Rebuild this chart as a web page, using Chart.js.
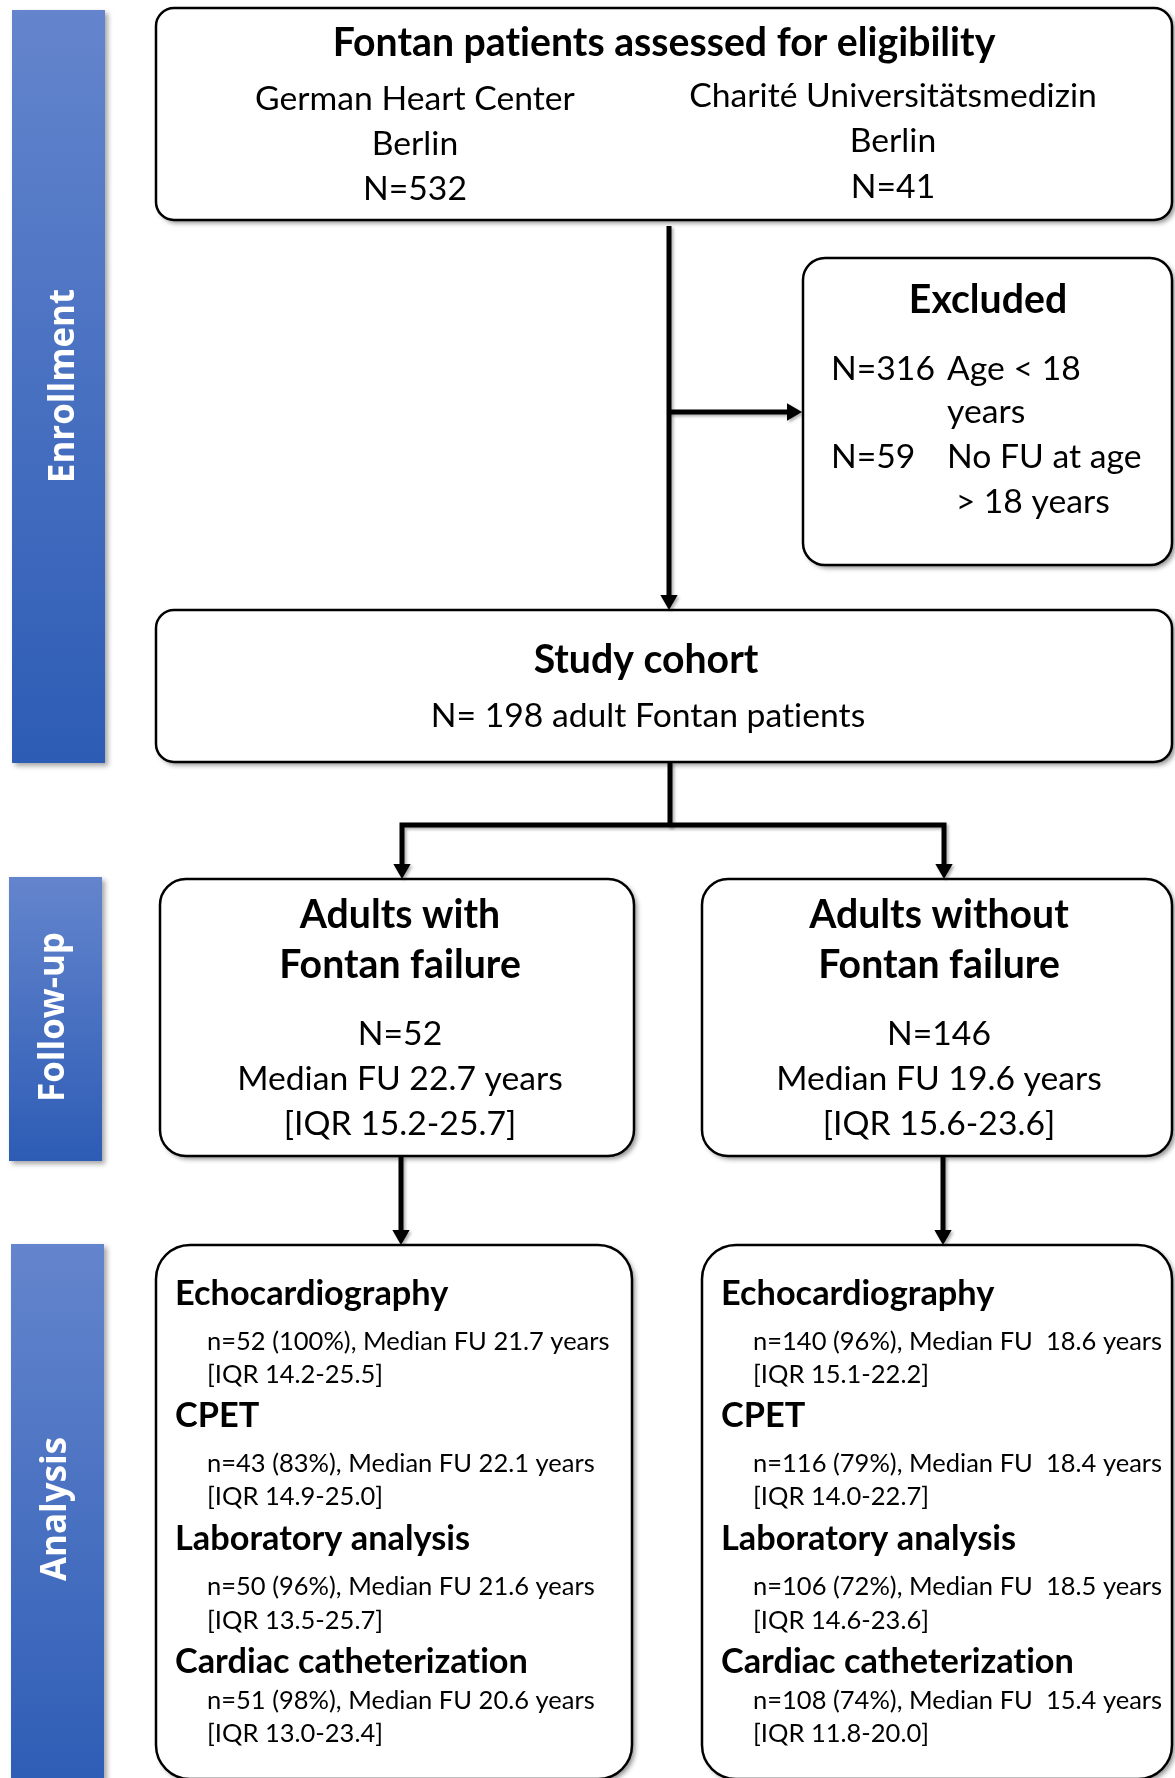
<!DOCTYPE html>
<html>
<head>
<meta charset="utf-8">
<title>Fontan cohort flow chart</title>
<script src="https://cdn.jsdelivr.net/npm/chart.js"></script>
<style>
  body { margin: 0; background: white; }
  #flow { display: block; }
</style>
</head>
<body>
<canvas id="flow" width="1175" height="1778"></canvas>
<script>
// ---- values ----
const phases = ['Enrollment', 'Follow-up', 'Analysis'];
const centres = ['German Heart Center', 'Charité Universitätsmedizin'];
const centreCity = ['Berlin', 'Berlin'];
const centreN = [532, 41];
const excludedN = [316, 59];
const excludedReason = [['Age < 18', 'years'], ['No FU at age', ' > 18 years']];
const cohortN = 198;
const groups = [['Adults with', 'Fontan failure'], ['Adults without', 'Fontan failure']];
const groupN = [52, 146];
const groupMedianFU = [22.7, 19.6];
const groupIQR = [[15.2, 25.7], [15.6, 23.6]];
const modalities = ['Echocardiography', 'CPET', 'Laboratory analysis', 'Cardiac catheterization'];
const modalityN = [[52, 43, 50, 51], [140, 116, 106, 108]];
const modalityPct = [[100, 83, 96, 98], [96, 79, 72, 74]];
const modalityMedianFU = [[21.7, 22.1, 21.6, 20.6], [18.6, 18.4, 18.5, 15.4]];
const modalityIQR = [
    [[14.2, 25.5], [14.9, 25.0], [13.5, 25.7], [13.0, 23.4]],
    [[15.1, 22.2], [14.0, 22.7], [14.6, 23.6], [11.8, 20.0]]
];

// ---- layout (units = pixels of the original figure) ----
const W = 1175, H = 1778;
const bars = [
    { x0: 12, y0: 10, x1: 105, y1: 763, base: 73.5, cy: 386 },
    { x0: 9, y0: 877, x1: 102, y1: 1161, base: 63.5, cy: 1017 },
    { x0: 11, y0: 1244, x1: 104, y1: 1800, base: 66, cy: 1509 }
];
const boxes = {
    source:   { x0: 156, y0: 8,    x1: 1172, y1: 220,  r: 18 },
    excluded: { x0: 803, y0: 258,  x1: 1172, y1: 565,  r: 22 },
    cohort:   { x0: 156, y0: 610,  x1: 1172, y1: 762,  r: 18 },
    groupL:   { x0: 160, y0: 879,  x1: 634,  y1: 1156, r: 26 },
    groupR:   { x0: 702, y0: 879,  x1: 1172, y1: 1156, r: 26 },
    anaL:     { x0: 156, y0: 1245, x1: 632,  y1: 1779, r: 34 },
    anaR:     { x0: 702, y0: 1245, x1: 1172, y1: 1779, r: 34 }
};
const arrowR = 10;
const links = [
    [[669, 226], [669, 600]],
    [[669, 412], [792, 412]],
    [[670, 762], [670, 827]],
    [[402, 869], [402, 825], [944, 825], [944, 869]],
    [[401, 1156], [401, 1235]],
    [[943, 1156], [943, 1235]]
];
const arrowsDown = [[669, 600], [402, 869], [944, 869], [401, 1235], [943, 1235]];
const arrowsRight = [[792, 412]];

const srcCols = [{ cx: 415, lines: [110, 155, 200] }, { cx: 893, lines: [107, 152, 198] }];
const exclRows = [{ nx: 831, rx: 947, lines: [380, 423] }, { nx: 831, rx: 947, lines: [468, 513] }];
const groupCx = [400, 939];
const groupHead = [928, 978];
const groupBody = [1045, 1090, 1135];
const anaHeadX = [175, 721];
const anaTextX = [207, 753];
const anaHead = [1305, 1427, 1550, 1673];
const anaLine1 = [1350, 1472, 1595, 1709];
const anaLine2 = [1383, 1505, 1629, 1742];
const fuGap = [' ', '  '];

// font sizes fitted so Lato matches the widths of the original text
const FONT = '"Lato", "Noto Sans", sans-serif';
const SIDE_FONT = '"Open Sans", "Noto Sans", sans-serif';
const SPACING = '0.01px';   // tiny spacing switches off Lato's "ti" ligature
let fonts = null;
function fit(ctx, weight, family, sample, target) {
    ctx.font = weight + ' 100px ' + family;
    ctx.letterSpacing = SPACING;
    return 100 * target / ctx.measureText(sample).width;
}
function setupFonts(ctx) {
    fonts = {
        head: 'bold ' + fit(ctx, 'bold', FONT, 'Fontan patients assessed for eligibility', 662).toFixed(1) + 'px ' + FONT,
        body: fit(ctx, 'normal', FONT, 'Median FU 22.7 years', 326).toFixed(1) + 'px ' + FONT,
        sub: 'bold ' + fit(ctx, 'bold', FONT, 'Echocardiography', 273).toFixed(1) + 'px ' + FONT,
        small: fit(ctx, 'normal', FONT, 'n=43 (83%), Median FU 22.1 years', 388).toFixed(1) + 'px ' + FONT,
        side: 'bold ' + fit(ctx, 'bold', SIDE_FONT, 'Follow-up', 170).toFixed(1) + 'px ' + SIDE_FONT
    };
}

const iqr = (p) => '[IQR ' + p[0].toFixed(1) + '-' + p[1].toFixed(1) + ']';

const flowPlugin = {
    id: 'flow',
    beforeDatasetsDraw(chart) {
        const ctx = chart.ctx;
        const X = v => chart.scales.x.getPixelForValue(v);
        const Y = v => chart.scales.y.getPixelForValue(v);
        if (!fonts) setupFonts(ctx);

        // phase bars
        bars.forEach((b, i) => {
            ctx.save();
            const g = ctx.createLinearGradient(0, Y(b.y0), 0, Y(b.y1));
            g.addColorStop(0, '#6485cd');
            g.addColorStop(1, '#2d5cb5');
            ctx.shadowColor = 'rgba(0,0,0,0.35)';
            ctx.shadowOffsetX = 3;
            ctx.shadowOffsetY = 3;
            ctx.shadowBlur = 5;
            ctx.fillStyle = g;
            ctx.fillRect(X(b.x0), Y(b.y0), X(b.x1) - X(b.x0), Y(b.y1) - Y(b.y0));
            ctx.restore();

            ctx.save();
            ctx.translate(X(b.base), Y(b.cy));
            ctx.rotate(-Math.PI / 2);
            ctx.fillStyle = '#ffffff';
            ctx.font = fonts.side;
            ctx.letterSpacing = SPACING;
            ctx.textAlign = 'center';
            ctx.textBaseline = 'alphabetic';
            ctx.fillText(phases[i], 0, 0);
            ctx.restore();
        });

        // rounded boxes
        Object.values(boxes).forEach(b => {
            ctx.save();
            ctx.beginPath();
            ctx.roundRect(X(b.x0), Y(b.y0), X(b.x1) - X(b.x0), Y(b.y1) - Y(b.y0), b.r);
            ctx.shadowColor = 'rgba(0,0,0,0.45)';
            ctx.shadowOffsetX = 3;
            ctx.shadowOffsetY = 3;
            ctx.shadowBlur = 5;
            ctx.fillStyle = '#ffffff';
            ctx.fill();
            ctx.shadowColor = 'transparent';
            ctx.lineWidth = 2.5;
            ctx.strokeStyle = '#000000';
            ctx.stroke();
            ctx.restore();
        });

        // soft shadow under the connectors, released in afterDatasetsDraw
        ctx.save();
        ctx.shadowColor = 'rgba(0,0,0,0.3)';
        ctx.shadowOffsetX = 2;
        ctx.shadowOffsetY = 2;
        ctx.shadowBlur = 3;
    },
    afterDatasetsDraw(chart) {
        const ctx = chart.ctx;
        ctx.restore();
        const X = v => chart.scales.x.getPixelForValue(v);
        const Y = v => chart.scales.y.getPixelForValue(v);
        const text = (str, x, y, font, align) => {
            ctx.font = font;
            ctx.textAlign = align || 'center';
            ctx.fillText(str, X(x), Y(y));
        };
        ctx.save();
        ctx.fillStyle = '#000000';
        ctx.textBaseline = 'alphabetic';
        ctx.letterSpacing = SPACING;

        // assessed for eligibility
        text('Fontan patients assessed for eligibility', 664, 56, fonts.head);
        srcCols.forEach((c, i) => {
            text(centres[i], c.cx, c.lines[0], fonts.body);
            text(centreCity[i], c.cx, c.lines[1], fonts.body);
            text('N=' + centreN[i], c.cx, c.lines[2], fonts.body);
        });

        // excluded
        text('Excluded', 988, 313, fonts.head);
        exclRows.forEach((r, i) => {
            text('N=' + excludedN[i], r.nx, r.lines[0], fonts.body, 'left');
            excludedReason[i].forEach((s, j) => text(s, r.rx, r.lines[j], fonts.body, 'left'));
        });

        // study cohort
        text('Study cohort', 646, 673, fonts.head);
        text('N= ' + cohortN + ' adult Fontan patients', 648, 727, fonts.body);

        // follow-up groups
        groups.forEach((g, i) => {
            const cx = groupCx[i];
            text(g[0], cx, groupHead[0], fonts.head);
            text(g[1], cx, groupHead[1], fonts.head);
            text('N=' + groupN[i], cx, groupBody[0], fonts.body);
            text('Median FU ' + groupMedianFU[i].toFixed(1) + ' years', cx, groupBody[1], fonts.body);
            text(iqr(groupIQR[i]), cx, groupBody[2], fonts.body);
        });

        // analysis per modality
        [0, 1].forEach(gi => {
            modalities.forEach((m, k) => {
                text(m, anaHeadX[gi], anaHead[k], fonts.sub, 'left');
                text('n=' + modalityN[gi][k] + ' (' + modalityPct[gi][k] + '%), Median FU' + fuGap[gi] +
                     modalityMedianFU[gi][k].toFixed(1) + ' years', anaTextX[gi], anaLine1[k], fonts.small, 'left');
                text(iqr(modalityIQR[gi][k]), anaTextX[gi], anaLine2[k], fonts.small, 'left');
            });
        });
        ctx.restore();
    }
};

const linkSets = links.map(pts => ({
    data: pts.map(p => ({ x: p[0], y: p[1] })),
    showLine: true,
    borderColor: '#000000',
    borderWidth: 5,
    borderJoinStyle: 'miter',
    borderCapStyle: 'butt',
    pointRadius: 0,
    tension: 0,
    fill: false
}));
const arrowSet = (pts, rot) => ({
    data: pts.map(p => ({ x: p[0], y: p[1] })),
    showLine: false,
    pointStyle: 'triangle',
    pointRadius: arrowR,
    pointRotation: rot,
    pointBackgroundColor: '#000000',
    pointBorderWidth: 0,
    pointBorderColor: '#000000'
});

function draw() {
    new Chart(document.getElementById('flow'), {
        type: 'scatter',
        data: { datasets: [...linkSets, arrowSet(arrowsDown, 180), arrowSet(arrowsRight, 90)] },
        options: {
            responsive: false,
            animation: false,
            events: [],
            layout: { padding: 0, autoPadding: false },
            scales: {
                x: { type: 'linear', min: 0, max: W, display: false },
                y: { type: 'linear', min: 0, max: H, reverse: true, display: false }
            },
            plugins: { legend: { display: false }, tooltip: { enabled: false } }
        },
        plugins: [flowPlugin]
    });
}

Promise.all([
    document.fonts.load('bold 20px "Lato"'),
    document.fonts.load('20px "Lato"'),
    document.fonts.load('bold 20px "Open Sans"')
]).then(draw, draw);
</script>
</body>
</html>
